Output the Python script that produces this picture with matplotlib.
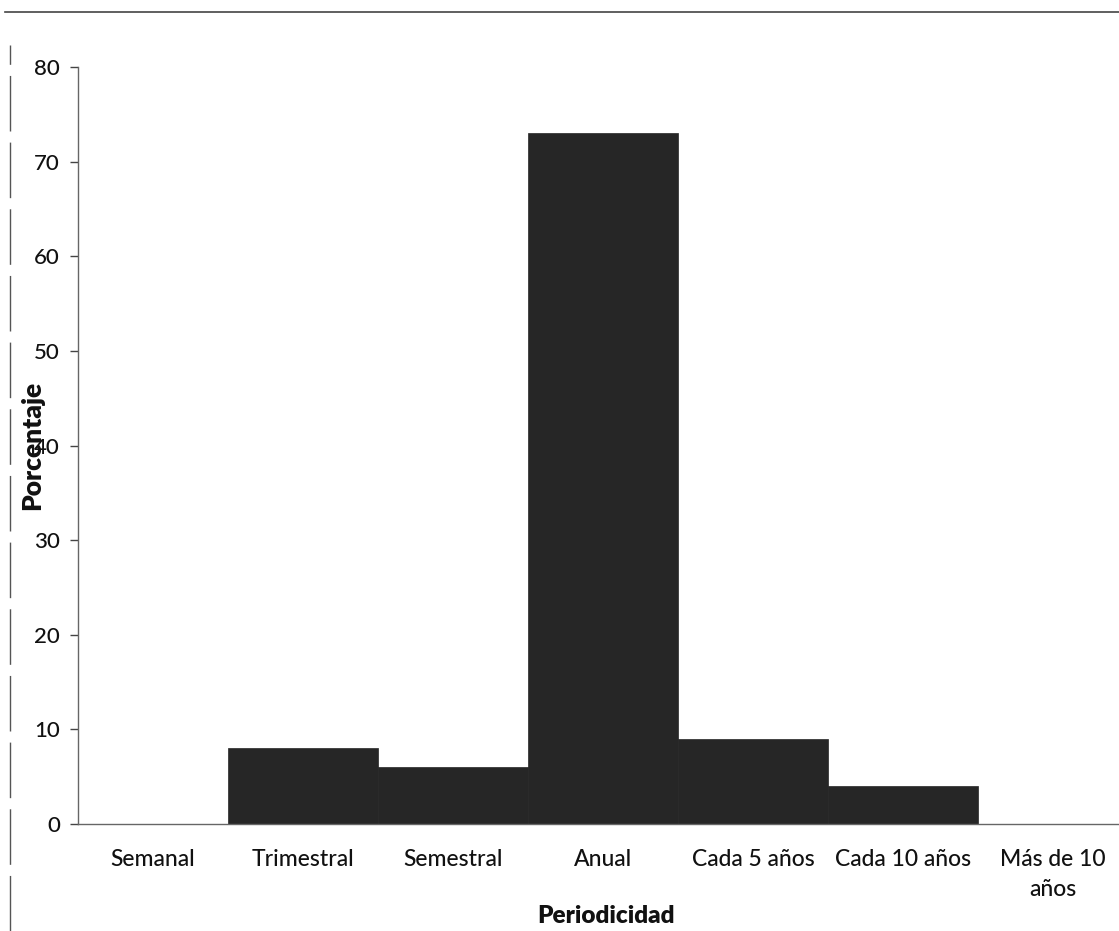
import matplotlib.pyplot as plt
from matplotlib.lines import Line2D
import numpy as np

plt.rcParams['font.family'] = ['Lato', 'DejaVu Sans']

categorias = ['Semanal', 'Trimestral', 'Semestral', 'Anual',
              'Cada 5 años', 'Cada 10 años', 'Más de 10\naños']
porcentaje = [0, 8, 6, 73, 9, 4, 0]
yticks = [0, 10, 20, 30, 40, 50, 60, 70, 80]

W, H = 1119, 931
fig = plt.figure(figsize=(W / 100, H / 100), dpi=100)
ax = fig.add_axes([78 / W, (H - 824) / H, 1050 / W, (824 - 67) / H])

x = np.arange(len(categorias))
ax.bar(x, porcentaje, width=1.0, color='#262626', edgecolor='#262626', linewidth=0.5)

ax.set_xlim(-0.5, len(categorias) - 0.5)
ax.set_ylim(0, 80)
ax.set_yticks(yticks)
ax.set_xticks(x)
ax.set_xticklabels(categorias, fontsize=16.5, color='#111111', linespacing=1.55,
                   fontweight='medium', va='top')
ax.tick_params(axis='x', length=0, pad=18)
ax.tick_params(axis='y', length=6, width=1, color='#444444', labelsize=16,
               labelcolor='#111111', pad=7)
for lab in ax.get_yticklabels():
    lab.set_fontweight('medium')

for s in ['top', 'right']:
    ax.spines[s].set_visible(False)
for s in ['left', 'bottom']:
    ax.spines[s].set_color('#666666')
    ax.spines[s].set_linewidth(1)

ax.set_xlabel('Periodicidad', fontsize=17.5, fontweight='heavy', color='#111111')
ax.xaxis.set_label_coords((606 - 78) / 1050, (824 - 916) / 757)
ax.set_ylabel('Porcentaje', fontsize=19, fontweight='heavy', color='#111111')
ax.yaxis.set_label_coords((32 - 78) / 1050, (824 - 445) / 757)
ax.xaxis.label.set_va('center')
ax.yaxis.label.set_va('center')

# scanned page border
fig.add_artist(Line2D([5 / W, 1], [1 - 12 / H, 1 - 12 / H], color='#444444', lw=1.2))
fig.add_artist(Line2D([10 / W, 10 / W], [0, 1 - 45 / H], color='#555555', lw=1,
                      linestyle=(0, (40, 8))))

fig.savefig('out.png', dpi=100)
